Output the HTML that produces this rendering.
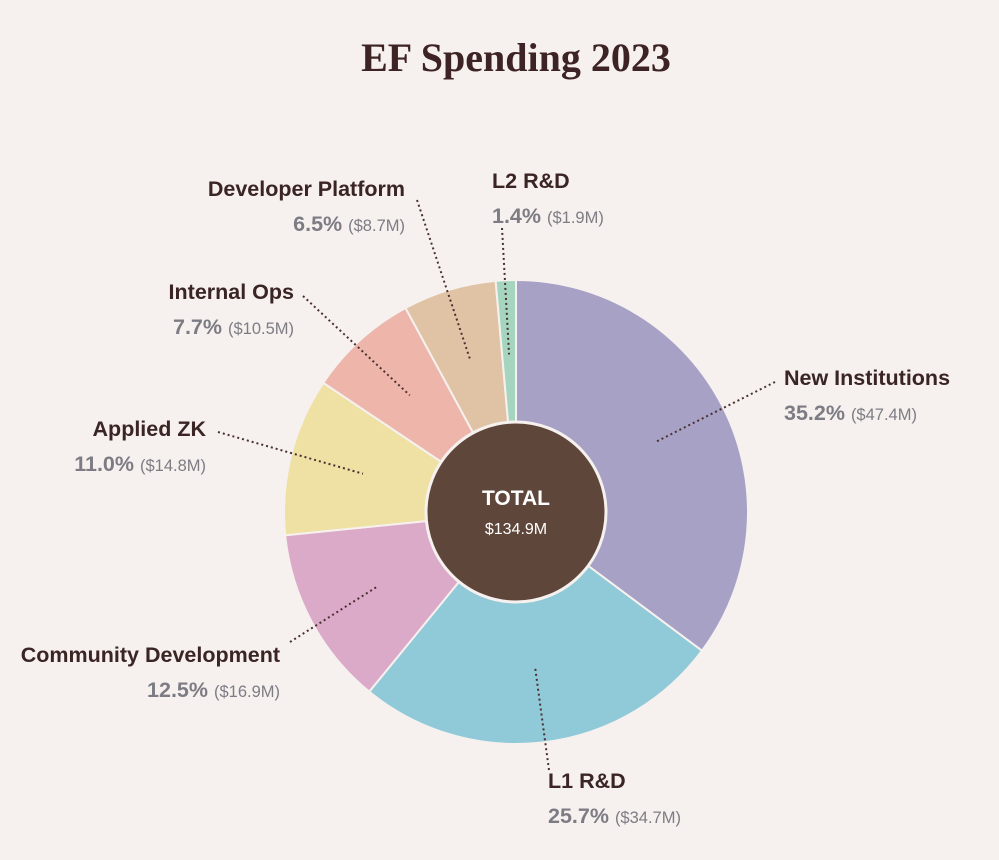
<!DOCTYPE html>
<html><head><meta charset="utf-8"><style>
html,body{margin:0;padding:0;background:#f6f1ee;}
svg{display:block;}
.lab{font-family:"Liberation Sans",sans-serif;font-weight:bold;font-size:21.5px;fill:#3a2424;}
.pct{font-family:"Liberation Sans",sans-serif;font-weight:bold;font-size:21.5px;fill:#7d7c84;}
.amt{font-family:"Liberation Sans",sans-serif;font-weight:normal;font-size:16.5px;fill:#7d7c84;}
</style></head><body>
<svg id="chart" width="999" height="860" viewBox="0 0 999 860">
<rect width="999" height="860" fill="#f6f1ee"/>
<text x="516" y="71" text-anchor="middle" font-family="Liberation Serif,serif" font-weight="bold" font-size="40" fill="#3d2323">EF Spending 2023</text>
<g id="slices"></g>
<g id="leaders"></g>
<g id="labels"></g>
<circle cx="516" cy="512" r="90" fill="#5e463b" stroke="#f6f1ee" stroke-width="3"/>
<text x="516" y="505" text-anchor="middle" font-family="Liberation Sans,sans-serif" font-weight="bold" font-size="21" fill="#fff">TOTAL</text>
<text x="516" y="534" text-anchor="middle" font-family="Liberation Sans,sans-serif" font-size="16" fill="#fff">$134.9M</text>
</svg>
<script>
const categories=["New Institutions","L1 R&D","Community Development","Applied ZK","Internal Ops","Developer Platform","L2 R&D"];
const percents=[35.2,25.7,12.5,11.0,7.7,6.5,1.4];
const amounts=["$47.4M","$34.7M","$16.9M","$14.8M","$10.5M","$8.7M","$1.9M"];
const colors=["#a7a1c6","#90c9d8","#dcaac9","#efe0a4","#eeb5ab","#e0c3a5","#a6d5bf"];
// label layout: [x, y, anchor, lineStartX, lineStartY]
const layout=[[784,385,"start",775,382],[548,788,"start",549,770],[280,662,"end",290,642],[206,436,"end",218,432],[294,299,"end",303,296],[405,196,"end",417,200],[492,188,"start",502,228]];
const NS="http://www.w3.org/2000/svg";
const cx=516,cy=512,R=232;
const total=percents.reduce((a,b)=>a+b,0);
function ang(v){return v/total*2*Math.PI-Math.PI/2;}
function pt(a,r){return [cx+r*Math.cos(a),cy+r*Math.sin(a)];}
const gS=document.getElementById('slices'),gL=document.getElementById('leaders'),gT=document.getElementById('labels');
let acc=0;
percents.forEach((p,i)=>{
  const a0=ang(acc),a1=ang(acc+p);acc+=p;
  const [x0,y0]=pt(a0,R),[x1,y1]=pt(a1,R);
  const large=(a1-a0)>Math.PI?1:0;
  const path=document.createElementNS(NS,'path');
  path.setAttribute('d',`M${cx},${cy}L${x0},${y0}A${R},${R} 0 ${large} 1 ${x1},${y1}Z`);
  path.setAttribute('fill',colors[i]);path.setAttribute('stroke','#f6f1ee');path.setAttribute('stroke-width','2');
  
  
  gS.appendChild(path);
  const am=(a0+a1)/2;const [ex,ey]=pt(am,R*0.68);
  const L=layout[i];
  const ln=document.createElementNS(NS,'line');
  ln.setAttribute('x1',L[3]);ln.setAttribute('y1',L[4]);ln.setAttribute('x2',ex);ln.setAttribute('y2',ey);
  ln.setAttribute('stroke','#4a3030');ln.setAttribute('stroke-width','2');ln.setAttribute('stroke-dasharray','2 3');
  
  
  gL.appendChild(ln);
  const t=document.createElementNS(NS,'text');
  t.setAttribute('x',L[0]);t.setAttribute('y',L[1]);t.setAttribute('text-anchor',L[2]);t.setAttribute('class','lab');
  t.textContent=categories[i];
  
  
  gT.appendChild(t);
  const v=document.createElementNS(NS,'text');
  v.setAttribute('x',L[0]);v.setAttribute('y',L[1]+35);v.setAttribute('text-anchor',L[2]);
  const s1=document.createElementNS(NS,'tspan');s1.setAttribute('class','pct');s1.textContent=p.toFixed(1)+'% ';
  const s2=document.createElementNS(NS,'tspan');s2.setAttribute('class','amt');s2.textContent='('+amounts[i]+')';
  v.appendChild(s1);v.appendChild(s2);
  
  
  gT.appendChild(v);
});
</script>
</body></html>
